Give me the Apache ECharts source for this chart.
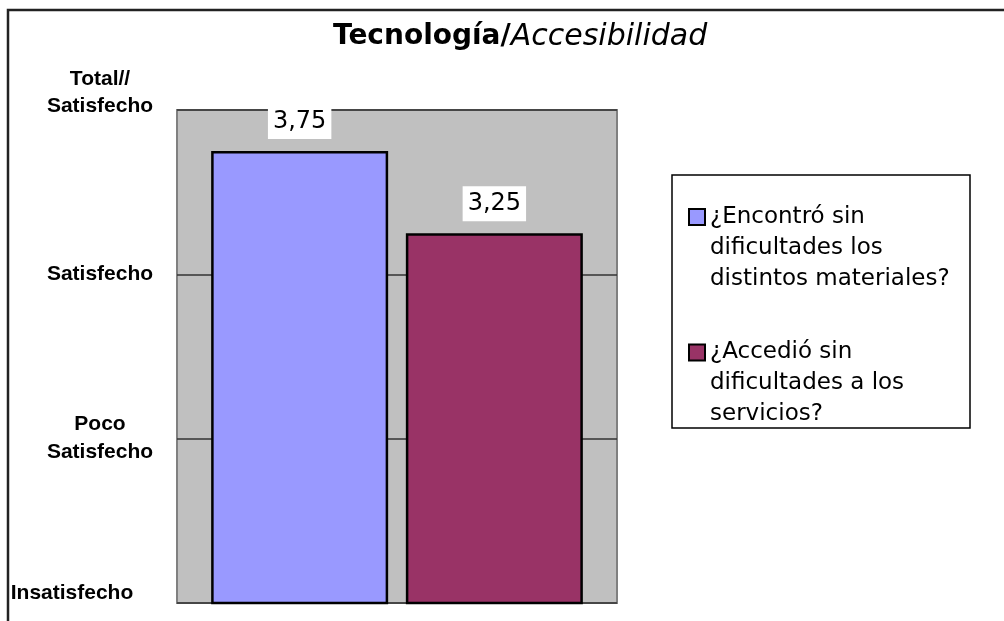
<!DOCTYPE html>
<html>
<head>
<meta charset="utf-8">
<script src="https://cdn.jsdelivr.net/npm/echarts@6/dist/echarts.min.js"></script>
<style>
  html, body { margin: 0; padding: 0; background: #fff; }
  #chart { width: 1004px; height: 621px; }
</style>
</head>
<body>
<div id="chart"></div>
<script>
// datos del gráfico
const titleBold = 'Tecnología/'
const titleItalic = 'Accesibilidad'
const categories = ['Accesibilidad']
const seriesNames = [
  '¿Encontró sin\ndificultades los\ndistintos materiales?',
  '¿Accedió sin\ndificultades a los\nservicios?'
]
const materialesValues = [3.75]
const serviciosValues = [3.25]
const yTickValues = [1, 2, 3, 4]
const yTickLabels = ['Insatisfecho', 'Poco\nSatisfecho', 'Satisfecho', 'Total//\nSatisfecho']
const colors = ['#9999FF', '#993366']

const chart = echarts.init(document.getElementById('chart'), null, { renderer: 'canvas' })

function yLabel(value) {
  const idx = yTickValues.indexOf(value)
  if (idx < 0) return ''
  const txt = yTickLabels[idx]
  if (idx === 0) return '{a|' + txt + '}{w| }\n{g1| }'
  if (idx === 1) return '{b|' + txt + '}'
  if (idx === 3) return '{a|' + txt + '}\n{g2| }'
  return '{a|' + txt + '}'
}

const labelFont = 'Liberation Sans, Arial, sans-serif'
const barLabel = {
  show: true,
  position: 'top',
  distance: 12,
  backgroundColor: '#fff',
  padding: [4, 5, 4, 5],
  fontSize: 24,
  lineHeight: 27,
  color: '#000',
  fontFamily: 'DejaVu Sans',
  formatter: p => p.value.toFixed(2).replace('.', ',')
}

const option = {
  animation: false,
  title: {
    text: '{b|' + titleBold + '}{i|' + titleItalic + '}',
    left: 333,
    top: 20,
    padding: 0,
    textStyle: {
      fontWeight: 'normal',
      rich: {
        b: { fontFamily: 'DejaVu Sans', fontSize: 28, fontWeight: 'bold', color: '#000', lineHeight: 34 },
        i: { fontFamily: 'DejaVu Sans', fontSize: 30, fontWeight: 'normal', fontStyle: 'italic', color: '#000', lineHeight: 34 }
      }
    }
  },
  grid: {
    left: 177,
    top: 110,
    right: 387,
    bottom: 18,
    show: true,
    backgroundColor: '#C0C0C0',
    borderColor: '#808080',
    borderWidth: 2,
    outerBoundsMode: 'none'
  },
  legend: {
    orient: 'vertical',
    left: 688,
    top: 170,
    padding: 0,
    itemWidth: 16,
    itemHeight: 16,
    itemGap: 15,
    icon: 'rect',
    selectedMode: false,
    itemStyle: { borderColor: '#000', borderWidth: 2 },
    // la primera línea del texto queda a la altura del icono
    formatter: name => '{g| }\n{t|' + name + '}',
    textStyle: {
      color: '#000',
      rich: {
        g: { lineHeight: 62, fontSize: 1 },
        t: { fontFamily: 'DejaVu Sans', fontSize: 23, lineHeight: 31, color: '#000' }
      }
    },
    data: seriesNames
  },
  xAxis: {
    type: 'category',
    data: categories,
    axisLine: { show: false },
    axisTick: { show: false },
    axisLabel: { show: false }
  },
  yAxis: {
    type: 'value',
    min: 1,
    max: 4,
    interval: 1,
    axisLine: { show: false },
    axisTick: { show: false },
    splitLine: { show: true, lineStyle: { color: '#333', width: 1.5 } },
    axisLabel: {
      align: 'center',
      margin: 77,
      formatter: yLabel,
      rich: {
        a: { fontFamily: labelFont, fontSize: 21, fontWeight: 'bold', color: '#000', lineHeight: 27 },
        b: { fontFamily: labelFont, fontSize: 21, fontWeight: 'bold', color: '#000', lineHeight: 28 },
        w: { width: 56, lineHeight: 27, fontSize: 1 },
        g1: { lineHeight: 20, fontSize: 1 },
        g2: { lineHeight: 35, fontSize: 1 }
      }
    }
  },
  series: [
    {
      name: seriesNames[0],
      type: 'bar',
      data: materialesValues,
      barWidth: 177,
      barGap: '10%',
      itemStyle: { color: colors[0], borderColor: '#000', borderWidth: 2.5 },
      label: barLabel
    },
    {
      name: seriesNames[1],
      type: 'bar',
      data: serviciosValues,
      barWidth: 177,
      barGap: '10%',
      itemStyle: { color: colors[1], borderColor: '#000', borderWidth: 2.5 },
      label: barLabel
    }
  ],
  graphic: [
    {
      type: 'rect',
      shape: { x: 8, y: 10, width: 1100, height: 700 },
      style: { fill: 'none', stroke: '#222', lineWidth: 2.5 },
      silent: true
    },
    {
      type: 'rect',
      shape: { x: 672, y: 175, width: 298, height: 253 },
      style: { fill: 'none', stroke: '#000', lineWidth: 1.5 },
      silent: true
    }
  ]
}

chart.setOption(option)
</script>
</body>
</html>
